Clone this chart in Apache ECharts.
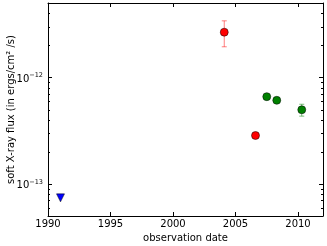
<!DOCTYPE html>
<html><head><meta charset="utf-8">
<script src="https://cdn.jsdelivr.net/npm/echarts@6/dist/echarts.min.js"></script>
<style>html,body{margin:0;padding:0;background:#fff}#c{width:327px;height:246px}</style>
</head><body><div id="c"></div>
<script>
// axis limits and ticks
const xLimits = [1990, 2012];
const xTickStep = 5;
const yLimits = [5e-14, 5e-12];
const yDecadeExponents = [-13, -12];
const yMinorTicks = [6e-14, 7e-14, 8e-14, 9e-14,
  2e-13, 3e-13, 4e-13, 5e-13, 6e-13, 7e-13, 8e-13, 9e-13,
  2e-12, 3e-12, 4e-12];

// upper limit (blue triangle)
const limitYears = [1991.0];
const limitFlux = [7.4e-14];

// red points
const redYears = [2004.1, 2006.6];
const redFlux = [2.66e-12, 2.85e-13];
const redLow = [1.94e-12, 2.85e-13];
const redHigh = [3.4e-12, 2.85e-13];

// green points
const greenYears = [2007.5, 2008.3, 2010.3];
const greenFlux = [6.6e-13, 6.1e-13, 4.97e-13];
const greenLow = [6.3e-13, 5.85e-13, 4.33e-13];
const greenHigh = [6.9e-13, 6.4e-13, 5.6e-13];

const FONT = 'DejaVu Sans';
const chart = echarts.init(document.getElementById('c'), null, {renderer: 'canvas'});

function errorSeries(years, low, high, color) {
  return {
    type: 'custom',
    xAxisIndex: 0, yAxisIndex: 0,
    silent: true, animation: false, z: 2,
    data: years.map((x, i) => [x, low[i], high[i]]),
    renderItem: function (params, api) {
      const x = api.value(0);
      const pLo = api.coord([x, api.value(1)]);
      const pHi = api.coord([x, api.value(2)]);
      const cap = 2.5;
      const st = {stroke: color, lineWidth: 1};
      return {type: 'group', children: [
        {type: 'line', shape: {x1: pLo[0], y1: pLo[1], x2: pHi[0], y2: pHi[1]}, style: st},
        {type: 'line', shape: {x1: pLo[0]-cap, y1: pLo[1], x2: pLo[0]+cap, y2: pLo[1]}, style: st},
        {type: 'line', shape: {x1: pHi[0]-cap, y1: pHi[1], x2: pHi[0]+cap, y2: pHi[1]}, style: st}
      ]};
    }
  };
}

const minorTickSeries = {
  type: 'custom', xAxisIndex: 0, yAxisIndex: 0, silent: true, animation: false, z: 5,
  clip: false,
  data: yMinorTicks.map(v => [v]),
  renderItem: function (params, api) {
    const v = api.value(0);
    const pl = api.coord([xLimits[0], v]);
    const pr = api.coord([xLimits[1], v]);
    const st = {stroke: '#000', lineWidth: 1};
    const yy = Math.round(pl[1]) + 0.5;
    return {type: 'group', children: [
      {type: 'line', shape: {x1: pl[0], y1: yy, x2: pl[0] + 2, y2: yy}, style: st},
      {type: 'line', shape: {x1: pr[0], y1: yy, x2: pr[0] - 2, y2: yy}, style: st}
    ]};
  }
};

function yLabel(v) {
  const l = Math.log10(v);
  const r = Math.round(l);
  if (Math.abs(l - r) > 1e-6 || yDecadeExponents.indexOf(r) < 0) return '';
  return '{b|10}{s|\u2212' + Math.abs(r) + '}';
}
function xLabel(v) {
  return (Math.abs(v % xTickStep) < 1e-9) ? String(v) : '';
}

const axisLine = {show: true, onZero: false, lineStyle: {color: '#000', width: 1}};
const tick = {show: true, inside: true, length: 4, lineStyle: {color: '#000'}};

const option = {
  backgroundColor: '#fff',
  animation: false,
  grid: {left: 48, right: 4, top: 3, bottom: 30, containLabel: false, outerBoundsMode: 'none'},
  xAxis: [{
    type: 'value', min: xLimits[0], max: xLimits[1], interval: xTickStep, position: 'bottom',
    axisLine: axisLine, axisTick: tick, splitLine: {show: false},
    axisLabel: {formatter: xLabel, color: '#000', fontFamily: FONT, fontSize: 10, margin: 3},
    name: 'observation date', nameLocation: 'middle', nameGap: 17, nameMoveOverlap: false,
    nameTextStyle: {color: '#000', fontFamily: FONT, fontSize: 10}
  }, {
    type: 'value', min: xLimits[0], max: xLimits[1], interval: xTickStep, position: 'top',
    axisLine: axisLine, axisTick: tick, splitLine: {show: false}, axisLabel: {show: false}
  }],
  yAxis: [{
    type: 'log', logBase: 10, min: yLimits[0], max: yLimits[1], position: 'left',
    axisLine: axisLine, axisTick: tick, splitLine: {show: false}, minorTick: {show: false},
    axisLabel: {formatter: yLabel, margin: 5, rich: {
      b: {fontFamily: FONT, fontSize: 10, color: '#000', lineHeight: 11, padding: [3, 0, 0, 0]},
      s: {fontFamily: FONT, fontSize: 6.5, color: '#000', lineHeight: 7, verticalAlign: 'top'}
    }},
    name: 'soft X-ray flux (in ergs/cm\u00b2 /s)', nameLocation: 'middle', nameGap: 32, nameMoveOverlap: false,
    nameTextStyle: {color: '#000', fontFamily: FONT, fontSize: 10}
  }, {
    type: 'log', logBase: 10, min: yLimits[0], max: yLimits[1], position: 'right',
    axisLine: axisLine, axisTick: tick, splitLine: {show: false}, axisLabel: {show: false}
  }],
  series: [
    errorSeries(redYears, redLow, redHigh, 'rgba(255,0,0,0.5)'),
    errorSeries(greenYears, greenLow, greenHigh, 'rgba(0,128,0,0.5)'),
    {
      type: 'scatter', xAxisIndex: 0, yAxisIndex: 0, z: 3,
      data: redYears.map((x, i) => [x, redFlux[i]]),
      symbol: 'circle', symbolSize: 8,
      itemStyle: {color: '#ff0000', borderColor: '#000', borderWidth: 0.5, opacity: 1}
    },
    {
      type: 'scatter', xAxisIndex: 0, yAxisIndex: 0, z: 3,
      data: greenYears.map((x, i) => [x, greenFlux[i]]),
      symbol: 'circle', symbolSize: 8,
      itemStyle: {color: '#008000', borderColor: '#000', borderWidth: 0.5, opacity: 1}
    },
    {
      type: 'scatter', xAxisIndex: 0, yAxisIndex: 0, z: 3,
      data: limitYears.map((x, i) => [x, limitFlux[i]]),
      symbol: 'triangle', symbolRotate: 180, symbolSize: 8,
      itemStyle: {color: '#0000ff', borderColor: '#000', borderWidth: 0.5, opacity: 1}
    },
    minorTickSeries
  ]
};
chart.setOption(option);
</script>
</body></html>
